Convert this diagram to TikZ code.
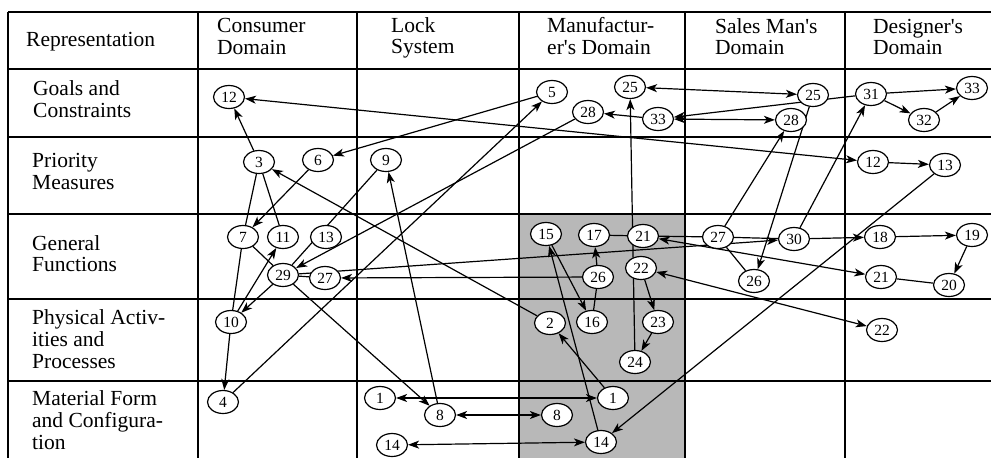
\documentclass[tikz,border=0pt]{standalone}
\usepackage{fontspec}
\setmainfont{Liberation Serif}
\usetikzlibrary{shapes.geometric,arrows.meta}
\pgfdeclarelayer{bg}
\pgfdeclarelayer{edges}
\pgfsetlayers{bg,edges,main}
\begin{document}
\begin{tikzpicture}[x=1pt,y=-1pt,
  lab/.style={anchor=base west, inner sep=0, font=\fontsize{21.5}{22}\selectfont},
  nd/.style={ellipse, draw, line width=1.2pt, minimum width=31pt, minimum height=23pt, inner sep=0, fill=white, font=\fontsize{15.5}{15.5}\selectfont},
  ln/.style={line width=1.2pt},
  tip/.tip={Stealth[length=11pt,width=8pt,inset=3pt]},
  arr/.style={ln, -tip},
  darr/.style={ln, tip-tip},
  gridline/.style={line width=1.5pt}]
\useasboundingbox (0,0) rectangle (991,458);
% background: shading and grid
\begin{pgfonlayer}{bg}
  \fill[black!28] (519,214) rectangle (685,458);
  \draw[gridline] (8,12) -- (991,12);
  \foreach \yy in {69,137,214,299,381} { \draw[gridline] (8,\yy) -- (991,\yy); }
  \foreach \xx in {8,198,357,519,685,845} { \draw[gridline] (\xx,12) -- (\xx,458); }
\end{pgfonlayer}
% header labels
\node[lab] (hRep) at (26,46) {Representation};
\node[lab] (hCon1) at (217,32) {Consumer};
\node[lab] (hCon2) at (217,54) {Domain};
\node[lab] (hLock1) at (391,32) {Lock};
\node[lab] (hLock2) at (391,53) {System};
\node[lab] (hMan1) at (547,32) {Manufactur-};
\node[lab] (hMan2) at (547,54) {er\textquotesingle s Domain};
\node[lab] (hSal1) at (715,33) {Sales Man\textquotesingle s};
\node[lab] (hSal2) at (715,54) {Domain};
\node[lab] (hDes1) at (873,33) {Designer\textquotesingle s};
\node[lab] (hDes2) at (873,54) {Domain};
% row labels
\node[lab] (rGoal1) at (33,95) {Goals and};
\node[lab] (rGoal2) at (33,117) {Constraints};
\node[lab] (rPri1) at (32,167) {Priority};
\node[lab] (rPri2) at (32,189) {Measures};
\node[lab] (rGen1) at (32,250) {General};
\node[lab] (rGen2) at (32,271) {Functions};
\node[lab] (rPhy1) at (32,324) {Physical Activ-};
\node[lab] (rPhy2) at (32,346) {ities and};
\node[lab] (rPhy3) at (32,368) {Processes};
\node[lab] (rMat1) at (32,405) {Material Form};
\node[lab] (rMat2) at (32,427) {and Configura-};
\node[lab] (rMat3) at (32,449) {tion};
% consumer domain
\node[nd] (C12) at (229,97) {12};
\node[nd] (C3) at (259,162) {3};
\node[nd] (C6) at (318,160) {6};
\node[nd] (C7) at (243,237) {7};
\node[nd] (C11) at (283,237) {11};
\node[nd] (C13) at (326,237) {13};
\node[nd] (C29) at (283,275) {29};
\node[nd] (C27) at (325,278) {27};
\node[nd] (C10) at (231,322) {10};
\node[nd] (C4) at (223,402) {4};
% lock system
\node[nd] (L9) at (386,160) {9};
\node[nd] (L1) at (380,398) {1};
\node[nd] (L8) at (440,415) {8};
\node[nd] (L14) at (392,445) {14};
% manufacturer's domain
\node[nd] (M5) at (552,92) {5};
\node[nd] (M25) at (630,87) {25};
\node[nd] (M28) at (588,112) {28};
\node[nd] (M33) at (658,119) {33};
\node[nd] (M15) at (546,234) {15};
\node[nd] (M17) at (594,235) {17};
\node[nd] (M21) at (643,236) {21};
\node[nd] (M26) at (598,277) {26};
\node[nd] (M22) at (641,268) {22};
\node[nd] (M2) at (550,323) {2};
\node[nd] (M16) at (592,322) {16};
\node[nd] (M23) at (658,322) {23};
\node[nd] (M24) at (635,362) {24};
\node[nd] (M1) at (613,398) {1};
\node[nd] (M8) at (557,415) {8};
\node[nd] (M14) at (601,442) {14};
% sales man's domain
\node[nd] (S25) at (813,95) {25};
\node[nd] (S28) at (791,120) {28};
\node[nd] (S27) at (718,237) {27};
\node[nd] (S30) at (794,239) {30};
\node[nd] (S26) at (754,281) {26};
% designer's domain
\node[nd] (D31) at (871,94) {31};
\node[nd] (D32) at (924,120) {32};
\node[nd] (D33) at (972,88) {33};
\node[nd] (D12) at (873,162) {12};
\node[nd] (D13) at (945,165) {13};
\node[nd] (D18) at (880,237) {18};
\node[nd] (D19) at (972,235) {19};
\node[nd] (D21) at (881,277) {21};
\node[nd] (D20) at (949,285) {20};
\node[nd] (D22) at (882,330) {22};
% connectors
\begin{pgfonlayer}{edges}
  \draw[arr] (C3) -- (C12);
  \draw[darr] (D12) -- (C12);
  \draw[arr] (M5) -- (C6);
  \draw[arr] (C6) -- (C7);
  \draw[ln] (C3) -- (C7);
  \draw[ln] (C7) -- (C10);
  \draw[ln] (C3) -- (C11);
  \draw[arr] (C10) -- (C11);
  \draw[ln] (C7) -- (C29);
  \draw[arr] (C29) -- (C10);
  \draw[ln] (L9) -- (C29);
  \draw[arr] (M28) -- (C29);
  \draw[ln] (C29) -- (C27);
  \draw[arr] (C29) -- (S30);
  \draw[arr] (M26) -- (C27);
  \draw[arr] (C29) -- (L8);
  \draw[arr] (C10) -- (C4);
  \draw[arr] (C4) -- (M5);
  \draw[arr] (L8) -- (L9);
  \draw[arr] (M2) -- (C3);
  \draw[arr] (M1) -- (M2);
  \draw[darr] (L1) -- (M1);
  \draw[darr] (L8) -- (M8);
  \draw[darr] (L14) -- (M14);
  \draw[arr] (M14) -- (M15);
  \draw[arr] (D13) -- (M14);
  \draw[arr] (M15) -- (M16);
  \draw[ln] (M16) -- (M26);
  \draw[arr] (M26) -- (M17);
  \draw[ln] (M17) -- (M21);
  \draw[ln] (M21) -- (S27);
  \draw[ln] (S27) -- (S30);
  \draw[arr] (S30) -- (D18);
  \draw[arr] (M24) -- (M25);
  \draw[arr] (M22) -- (M23);
  \draw[arr] (M23) -- (M24);
  \draw[darr] (D22) -- (M22);
  \draw[darr] (D21) -- (M21);
  \draw[arr] (S27) -- (S28);
  \draw[ln] (S27) -- (S26);
  \draw[arr] (S25) -- (S26);
  \draw[arr] (S30) -- (D31);
  \draw[darr] (M25) -- (S25);
  \draw[darr] (M33) -- (S28);
  \draw[arr] (D31) -- (M33);
  \draw[arr] (M33) -- (M28);
  \draw[arr] (D31) -- (D33);
  \draw[arr] (D31) -- (D32);
  \draw[arr] (D32) -- (D33);
  \draw[arr] (D12) -- (D13);
  \draw[arr] (D18) -- (D19);
  \draw[arr] (D19) -- (D20);
  \draw[ln] (D20) -- (D21);
\end{pgfonlayer}
\end{tikzpicture}
\end{document}
